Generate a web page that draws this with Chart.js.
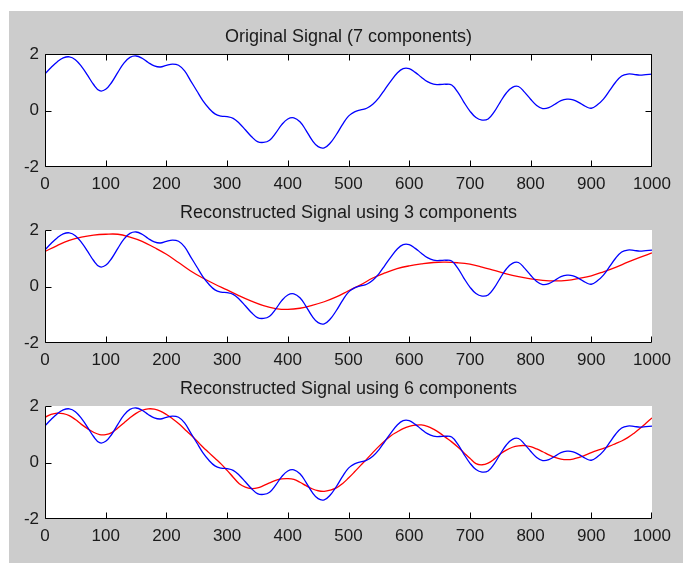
<!DOCTYPE html>
<html>
<head>
<meta charset="utf-8">
<script src="https://cdn.jsdelivr.net/npm/chart.js@4.4.1/dist/chart.umd.min.js"></script>
<style>
  html, body { margin: 0; padding: 0; background: #ffffff; }
  #wrap { position: relative; width: 683px; height: 563px; overflow: hidden; background: #ffffff; }
  #fig { position: absolute; left: 9px; top: 11px; width: 674px; height: 552px; background: #cccccc; }
  canvas { position: absolute; left: 0; }
</style>
</head>
<body>
<div id="wrap">
  <div id="fig"></div>
  <canvas id="c1" width="683" height="195" style="top:11px"></canvas>
  <canvas id="c2" width="683" height="195" style="top:187px"></canvas>
  <canvas id="c3" width="683" height="195" style="top:363px"></canvas>
</div>
<script>
// ---- data ----
const titles = [
  "Original Signal (7 components)",
  "Reconstructed Signal using 3 components",
  "Reconstructed Signal using 6 components"
];
const xTicks = [0, 100, 200, 300, 400, 500, 600, 700, 800, 900, 1000];
const yTicks = [-2, 0, 2];

const sampleX = [0,10,20,30,40,50,60,70,80,90,100,110,120,130,140,150,160,170,180,190,
  200,210,220,230,240,250,260,270,280,290,300,310,320,330,340,350,360,370,380,390,
  400,410,420,430,440,450,460,470,480,490,500,510,520,530,540,550,560,570,580,590,
  600,610,620,630,640,650,660,670,680,690,700,710,720,730,740,750,760,770,780,790,
  800,810,820,830,840,850,860,870,880,890,900,910,920,930,940,950,960,970,980,990,1000];

const originalSignal = [1.30,1.52,1.72,1.86,1.90,1.80,1.56,1.25,0.92,0.70,
  0.75,1.00,1.35,1.68,1.88,1.93,1.85,1.70,1.58,1.54,
  1.60,1.64,1.60,1.40,1.05,0.70,0.35,0.08,-0.12,-0.20,
  -0.22,-0.28,-0.45,-0.68,-0.92,-1.10,-1.13,-1.05,-0.80,-0.50,
  -0.30,-0.26,-0.40,-0.70,-1.05,-1.28,-1.32,-1.15,-0.85,-0.50,
  -0.20,-0.05,0.02,0.08,0.22,0.45,0.75,1.05,1.32,1.48,
  1.48,1.35,1.18,1.02,0.93,0.92,0.93,0.90,0.65,0.30,
  -0.02,-0.25,-0.34,-0.30,-0.05,0.30,0.62,0.82,0.85,0.65,
  0.40,0.18,0.07,0.10,0.22,0.35,0.40,0.38,0.28,0.15,
  0.08,0.20,0.40,0.70,1.00,1.22,1.29,1.28,1.25,1.27,1.29];

const recon6 = [1.60,1.70,1.75,1.73,1.66,1.52,1.35,1.20,1.07,0.99,
  0.99,1.06,1.22,1.40,1.58,1.74,1.85,1.90,1.89,1.82,
  1.70,1.55,1.38,1.18,0.98,0.77,0.55,0.35,0.15,-0.05,
  -0.28,-0.52,-0.75,-0.87,-0.92,-0.90,-0.82,-0.72,-0.63,-0.58,
  -0.57,-0.60,-0.70,-0.82,-0.93,-1.00,-1.02,-0.98,-0.90,-0.75,
  -0.55,-0.33,-0.10,0.12,0.35,0.57,0.77,0.95,1.08,1.20,
  1.28,1.32,1.33,1.28,1.18,1.05,0.89,0.73,0.55,0.35,
  0.15,-0.04,-0.08,-0.02,0.12,0.30,0.44,0.54,0.59,0.60,
  0.56,0.48,0.38,0.27,0.18,0.12,0.10,0.12,0.18,0.26,
  0.35,0.43,0.50,0.58,0.67,0.76,0.88,1.03,1.20,1.39,1.58];

const recon3X = [0,20,40,60,80,100,120,140,160,180,200,220,240,260,280,300,320,340,360,380,
  400,420,440,460,480,500,520,540,560,580,600,620,640,660,680,700,720,740,760,780,
  800,820,840,860,880,900,920,940,960,980,1000];
const recon3 = [1.24,1.45,1.63,1.75,1.82,1.85,1.85,1.75,1.60,1.38,
  1.14,0.85,0.55,0.30,0.08,-0.12,-0.33,-0.52,-0.68,-0.78,
  -0.81,-0.77,-0.67,-0.54,-0.37,-0.15,0.06,0.30,0.48,0.63,
  0.73,0.80,0.85,0.86,0.84,0.79,0.69,0.57,0.45,0.35,
  0.27,0.22,0.20,0.22,0.29,0.38,0.52,0.68,0.86,1.03,1.19];

// ---- drawing ----
const FONT = "'Liberation Sans', Arial, Helvetica, sans-serif";
Chart.defaults.font.family = FONT;
Chart.defaults.color = '#1a1a1a';

function pts(xs, ys) { return xs.map((x, i) => ({ x: x, y: ys[i] })); }

const axesFrame = {
  id: 'axesFrame',
  beforeDatasetsDraw(chart) {
    const a = chart.chartArea, ctx = chart.ctx;
    ctx.save();
    ctx.fillStyle = '#ffffff';
    ctx.fillRect(a.left, a.top, a.right - a.left, a.bottom - a.top);
    ctx.restore();
  },
  afterDatasetsDraw(chart, args, opts) {
    const a = chart.chartArea, ctx = chart.ctx;
    const xs = chart.scales.x, ys = chart.scales.y;
    const L = Math.round(a.left) + 0.5, R = Math.round(a.right) - 0.5;
    const T = Math.round(a.top) + 0.5, B = Math.round(a.bottom) - 0.5;
    const tl = 6;
    ctx.save();
    ctx.strokeStyle = '#000000';
    ctx.lineWidth = 1;
    ctx.beginPath();
    ctx.moveTo(L, T); ctx.lineTo(L, B); ctx.lineTo(R, B);
    if (opts.box) { ctx.lineTo(R, T); ctx.lineTo(L, T); }
    xs.ticks.forEach(t => {
      const px = Math.round(xs.getPixelForValue(t.value)) + (t.value === 1000 ? -0.5 : 0.5);
      ctx.moveTo(px, B); ctx.lineTo(px, B - tl);
      if (opts.box) { ctx.moveTo(px, T); ctx.lineTo(px, T + tl); }
    });
    ys.ticks.forEach(t => {
      const py = Math.round(ys.getPixelForValue(t.value)) + (t.value === -2 ? -0.5 : 0.5);
      ctx.moveTo(L, py); ctx.lineTo(L + tl, py);
      if (opts.box) { ctx.moveTo(R, py); ctx.lineTo(R - tl, py); }
    });
    ctx.stroke();
    ctx.restore();
  }
};

function makeChart(id, title, datasets, box) {
  return new Chart(document.getElementById(id), {
    type: 'line',
    data: { datasets: datasets },
    plugins: [axesFrame],
    options: {
      responsive: false,
      animation: false,
      devicePixelRatio: 1,
      layout: { padding: { left: 0, right: 31, top: 0, bottom: 0 } },
      plugins: {
        legend: { display: false },
        tooltip: { enabled: false },
        axesFrame: { box: box },
        title: {
          display: true, text: title, fullSize: false,
          color: '#1a1a1a',
          font: { size: 18, weight: 'normal', family: FONT },
          padding: { top: 15, bottom: 6.4 }
        }
      },
      elements: { point: { radius: 0 }, line: { tension: 0.4, borderWidth: 1.3 } },
      scales: {
        x: {
          type: 'linear', min: 0, max: 1000,
          afterBuildTicks: s => { s.ticks = xTicks.map(v => ({ value: v })); },
          afterFit: s => { s.height = 39; },
          grid: { display: false, drawTicks: false },
          border: { display: false },
          ticks: { padding: 7, font: { size: 17 }, color: '#1a1a1a', maxRotation: 0, autoSkip: false,
                   callback: v => String(v) }
        },
        y: {
          type: 'linear', min: -2, max: 2,
          afterBuildTicks: s => { s.ticks = yTicks.map(v => ({ value: v })); },
          afterFit: s => { s.width = 45; },
          grid: { display: false, drawTicks: false },
          border: { display: false },
          ticks: { padding: 6, font: { size: 17 }, color: '#1a1a1a', callback: v => String(v) }
        }
      }
    }
  });
}

const blue = () => ({ data: pts(sampleX, originalSignal), borderColor: '#0000ff', borderWidth: 1.3, fill: false });

makeChart('c1', titles[0], [blue()], true);
makeChart('c2', titles[1], [
  blue(),
  { data: pts(recon3X, recon3), borderColor: '#ff0000', borderWidth: 1.3, fill: false }
], false);
makeChart('c3', titles[2], [
  blue(),
  { data: pts(sampleX, recon6), borderColor: '#ff0000', borderWidth: 1.3, fill: false }
], false);
</script>
</body>
</html>
